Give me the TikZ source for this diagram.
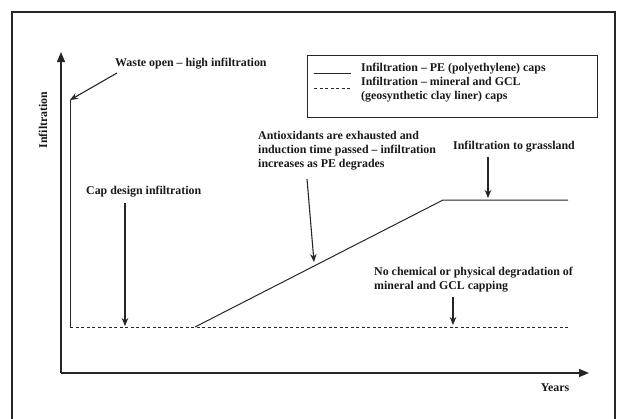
\documentclass[tikz,border=0pt]{standalone}
\usepackage{fontspec}
\setmainfont{Liberation Serif}
\usetikzlibrary{arrows.meta}
\begin{document}
\begin{tikzpicture}[x=1pt,y=-1pt,
  lab/.style={font=\fontsize{11.9}{14.2}\selectfont\bfseries, inner sep=0pt, align=left, text=black!90},
  axis/.style={line width=1.3pt, draw=black!85, -{Triangle[length=10pt,width=8pt]}},
  plotline/.style={line width=1pt, draw=black!85},
  dashline/.style={line width=1pt, draw=black!85, dash pattern=on 3pt off 2.5pt},
  pointer/.style={line width=1.1pt, draw=black!85, -{Stealth[length=8pt,width=6.5pt]}}]
\useasboundingbox (0,0) rectangle (623,418);
\draw[line width=2pt, draw=black!85] (12,430) -- (12,12) -- (615,12) -- (615,430);
% axes
\coordinate (O) at (61,373);
\coordinate (ytip) at (61,52);
\coordinate (xtip) at (589,373);
\draw[axis] (O) -- (ytip);
\draw[axis] (O) -- (xtip);
\node[lab, rotate=90] (ylab) at (43,120) {Infiltration};
\node[lab, anchor=base] (xlab) at (555,391) {Years};
% curves
\coordinate (a) at (70,100);
\coordinate (b) at (70,327);
\coordinate (c) at (195,327);
\coordinate (d) at (443,200);
\coordinate (e) at (568,200);
\coordinate (f) at (568,327);
\draw[dashline] (b) -- (f);
\draw[plotline] (a) -- (b);
\draw[plotline] (c) -- (d) -- (e);
% legend
\draw[line width=1pt, draw=black!85] (307,55) rectangle (597,117);
\coordinate (ls1) at (314,73); \coordinate (le1) at (351,73);
\coordinate (ls2) at (314,88); \coordinate (le2) at (351,88);
\draw[plotline] (ls1) -- (le1);
\draw[dashline] (ls2) -- (le2);
\node[lab, anchor=north west] (leg) at (361,63) {Infiltration -- PE (polyethylene) caps\\Infiltration -- mineral and GCL\\(geosynthetic clay liner) caps};
% labels and pointers
\node[lab, anchor=west] (waste) at (115,64) {Waste open -- high infiltration};
\draw[pointer] (117,73) -- (a);
\node[lab, anchor=west] (cap) at (86,192) {Cap design infiltration};
\coordinate (capt) at (125,326);
\draw[pointer] (cap.south -| capt) ++(0,5) -- (capt);
\node[lab, anchor=north west] (anti) at (258,131) {Antioxidants are exhausted and\\induction time passed -- infiltration\\increases as PE degrades};
\coordinate (antit) at (314,262);
\draw[pointer] (307,179) -- (antit);
\node[lab, anchor=west] (grass) at (453,147) {Infiltration to grassland};
\coordinate (grasst) at (488,198);
\draw[pointer] (grasst |- grass.south) ++(0,4) -- (grasst);
\node[lab, anchor=north west] (nochem) at (374,267) {No chemical or physical degradation of\\mineral and GCL capping};
\coordinate (nocht) at (453,325);
\draw[pointer] (nocht |- nochem.south) ++(0,4) -- (nocht);
\end{tikzpicture}
\end{document}
